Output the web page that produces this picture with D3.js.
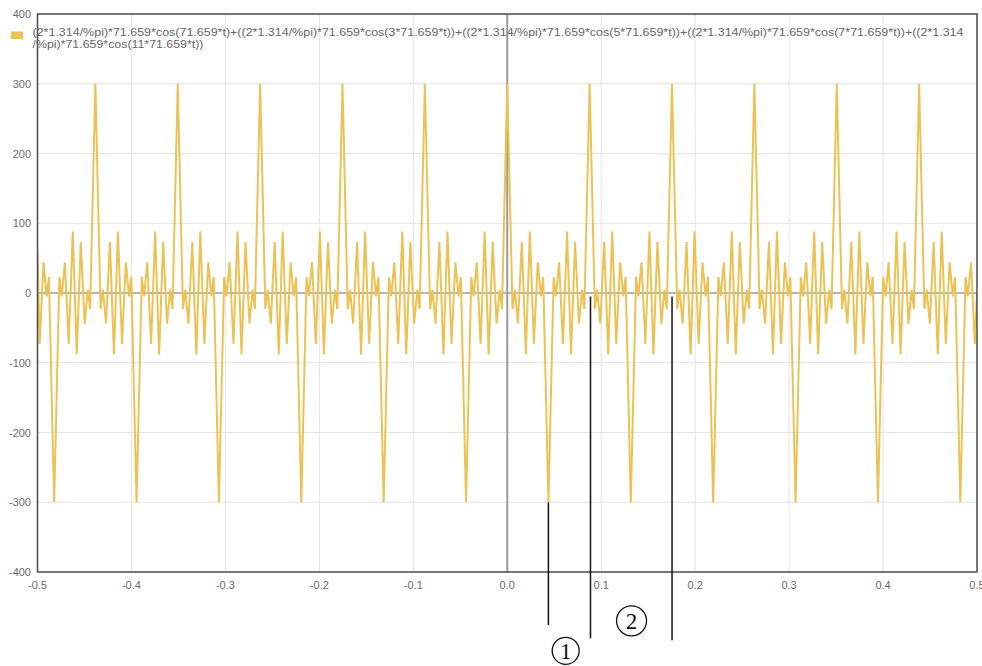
<!DOCTYPE html>
<html>
<head>
<meta charset="utf-8">
<script src="https://cdn.jsdelivr.net/npm/d3@7"></script>
<style>
  body { margin: 0; background: #fff; }
  svg { display: block; font-family: "Liberation Sans", Arial, sans-serif; }
</style>
</head>
<body>
<svg id="canvas" width="982" height="666"></svg>
<script>
const width = 982;
const height = 666;

// tick values
const xTicks = [-0.5, -0.4, -0.3, -0.2, -0.1, 0, 0.1, 0.2, 0.3, 0.4, 0.5];
const yTicks = [-400, -300, -200, -100, 0, 100, 200, 300, 400];

const legendLines = [
  "(2*1.314/%pi)*71.659*cos(71.659*t)+((2*1.314/%pi)*71.659*cos(3*71.659*t))+((2*1.314/%pi)*71.659*cos(5*71.659*t))+((2*1.314/%pi)*71.659*cos(7*71.659*t))+((2*1.314",
  "/%pi)*71.659*cos(11*71.659*t))"
];

// vertices of the curve (t, value)
const timeS = [
  -0.5, -0.49774, -0.49362, -0.49027, -0.48783, -0.48225, -0.47667, -0.47423, -0.47088, -0.46676,
  -0.46244, -0.45823, -0.4539, -0.44978, -0.44643, -0.44399, -0.43841, -0.43283, -0.43039, -0.42704,
  -0.42292, -0.4186, -0.41439, -0.41006, -0.40594, -0.40259, -0.40015, -0.39457, -0.38899, -0.38655,
  -0.3832, -0.37908, -0.37476, -0.37055, -0.36622, -0.3621, -0.35875, -0.35631, -0.35073, -0.34515,
  -0.34271, -0.33936, -0.33524, -0.33092, -0.32671, -0.32238, -0.31826, -0.31491, -0.31247, -0.30689,
  -0.30131, -0.29887, -0.29552, -0.2914, -0.28708, -0.28287, -0.27854, -0.27442, -0.27107, -0.26863,
  -0.26305, -0.25746, -0.25502, -0.25167, -0.24755, -0.24323, -0.23902, -0.23469, -0.23057, -0.22722,
  -0.22478, -0.2192, -0.21362, -0.21118, -0.20783, -0.20371, -0.19939, -0.19518, -0.19085, -0.18673,
  -0.18338, -0.18094, -0.17536, -0.16978, -0.16734, -0.16399, -0.15987, -0.15555, -0.15134, -0.14701,
  -0.14289, -0.13954, -0.1371, -0.13152, -0.12594, -0.1235, -0.12015, -0.11603, -0.11171, -0.1075,
  -0.10317, -0.09905, -0.0957, -0.09326, -0.08768, -0.0821, -0.07966, -0.07631, -0.07219, -0.06787,
  -0.06366, -0.05933, -0.05521, -0.05186, -0.04942, -0.04384, -0.03826, -0.03582, -0.03247, -0.02835,
  -0.02403, -0.01982, -0.01549, -0.01137, -0.00802, -0.00558, 0,
  0.00558, 0.00802, 0.01137, 0.01549, 0.01982, 0.02403, 0.02835, 0.03247, 0.03582, 0.03826,
  0.04384, 0.04942, 0.05186, 0.05521, 0.05933, 0.06366, 0.06787, 0.07219, 0.07631, 0.07966,
  0.0821, 0.08768, 0.09326, 0.0957, 0.09905, 0.10317, 0.1075, 0.11171, 0.11603, 0.12015,
  0.1235, 0.12594, 0.13152, 0.1371, 0.13954, 0.14289, 0.14701, 0.15134, 0.15555, 0.15987,
  0.16399, 0.16734, 0.16978, 0.17536, 0.18094, 0.18338, 0.18673, 0.19085, 0.19518, 0.19939,
  0.20371, 0.20783, 0.21118, 0.21362, 0.2192, 0.22478, 0.22722, 0.23057, 0.23469, 0.23902,
  0.24323, 0.24755, 0.25167, 0.25502, 0.25746, 0.26305, 0.26863, 0.27107, 0.27442, 0.27854,
  0.28287, 0.28708, 0.2914, 0.29552, 0.29887, 0.30131, 0.30689, 0.31247, 0.31491, 0.31826,
  0.32238, 0.32671, 0.33092, 0.33524, 0.33936, 0.34271, 0.34515, 0.35073, 0.35631, 0.35875,
  0.3621, 0.36622, 0.37055, 0.37476, 0.37908, 0.3832, 0.38655, 0.38899, 0.39457, 0.40015,
  0.40259, 0.40594, 0.41006, 0.41439, 0.4186, 0.42292, 0.42704, 0.43039, 0.43283, 0.43841,
  0.44399, 0.44643, 0.44978, 0.4539, 0.45823, 0.46244, 0.46676, 0.47088, 0.47423, 0.47667,
  0.48225, 0.48783, 0.49027, 0.49362, 0.49774, 0.5
];

const amp = [
  60, -73, 44, -5, 23, -300, 23, -5, 44, -73,
  88, -88, 73, -44, 5, -23, 300, -23, 5, -44,
  73, -88, 88, -73, 44, -5, 23, -300, 23, -5,
  44, -73, 88, -88, 73, -44, 5, -23, 300, -23,
  5, -44, 73, -88, 88, -73, 44, -5, 23, -300,
  23, -5, 44, -73, 88, -88, 73, -44, 5, -23,
  300, -23, 5, -44, 73, -88, 88, -73, 44, -5,
  23, -300, 23, -5, 44, -73, 88, -88, 73, -44,
  5, -23, 300, -23, 5, -44, 73, -88, 88, -73,
  44, -5, 23, -300, 23, -5, 44, -73, 88, -88,
  73, -44, 5, -23, 300, -23, 5, -44, 73, -88,
  88, -73, 44, -5, 23, -300, 23, -5, 44, -73,
  88, -88, 73, -44, 5, -23, 300,
  -23, 5, -44, 73, -88, 88, -73, 44, -5, 23,
  -300, 23, -5, 44, -73, 88, -88, 73, -44, 5,
  -23, 300, -23, 5, -44, 73, -88, 88, -73, 44,
  -5, 23, -300, 23, -5, 44, -73, 88, -88, 73,
  -44, 5, -23, 300, -23, 5, -44, 73, -88, 88,
  -73, 44, -5, 23, -300, 23, -5, 44, -73, 88,
  -88, 73, -44, 5, -23, 300, -23, 5, -44, 73,
  -88, 88, -73, 44, -5, 23, -300, 23, -5, 44,
  -73, 88, -88, 73, -44, 5, -23, 300, -23, 5,
  -44, 73, -88, 88, -73, 44, -5, 23, -300, 23,
  -5, 44, -73, 88, -88, 73, -44, 5, -23, 300,
  -23, 5, -44, 73, -88, 88, -73, 44, -5, 23,
  -300, 23, -5, 44, -73, 0
];

// hand drawn markers under the chart (t, top value, bottom value)
const markerT = [0.0438, 0.0886, 0.1754];
const markerTop = [-300, -5, -5];
const markerBottom = [-476, -495, -498];
const badgeText = ["1", "2"];
const badgeT = [0.0622, 0.1323];
const badgeY = [-513, -470];

const svg = d3.select("#canvas");

const x = d3.scaleLinear().domain([-0.5, 0.5]).range([37.5, 977]);
const y = d3.scaleLinear().domain([-400, 400]).range([572, 14]);

// grid
svg.append("g")
    .selectAll("line")
    .data(xTicks.slice(1, -1))
    .enter()
    .append("line")
    .attr("x1", d => x(d)).attr("x2", d => x(d))
    .attr("y1", y(400)).attr("y2", y(-400))
    .attr("stroke", "#e4e4e4")
    .attr("stroke-width", 1);

svg.append("g")
    .selectAll("line")
    .data(yTicks.slice(1, -1))
    .enter()
    .append("line")
    .attr("x1", x(-0.5)).attr("x2", x(0.5))
    .attr("y1", d => y(d)).attr("y2", d => y(d))
    .attr("stroke", "#e4e4e4")
    .attr("stroke-width", 1);

// zero axes
svg.append("line")
    .attr("x1", x(0)).attr("x2", x(0))
    .attr("y1", y(400)).attr("y2", y(-400))
    .attr("stroke", "#9a9a9a").attr("stroke-width", 2);
svg.append("line")
    .attr("x1", x(-0.5)).attr("x2", x(0.5))
    .attr("y1", y(0)).attr("y2", y(0))
    .attr("stroke", "#a0a0a0").attr("stroke-width", 1.5);

// the curve
svg.append("clipPath").attr("id", "plotClip")
    .append("rect")
    .attr("x", x(-0.5)).attr("y", y(400))
    .attr("width", x(0.5) - x(-0.5)).attr("height", y(-400) - y(400));

const line = d3.line()
    .x((d, i) => x(timeS[i]))
    .y(d => y(d));

svg.append("path")
    .datum(amp)
    .attr("clip-path", "url(#plotClip)")
    .attr("fill", "none")
    .attr("stroke", "#eac255")
    .attr("stroke-width", 2)
    .attr("stroke-linejoin", "miter")
    .attr("stroke-miterlimit", 2)
    .attr("d", line);

// frame
svg.append("rect")
    .attr("x", x(-0.5)).attr("y", y(400))
    .attr("width", x(0.5) - x(-0.5)).attr("height", y(-400) - y(400))
    .attr("fill", "none")
    .attr("stroke", "#4a4a4a")
    .attr("stroke-width", 1.5);

// tick labels
svg.append("g")
    .selectAll("text")
    .data(yTicks)
    .enter()
    .append("text")
    .attr("x", 31)
    .attr("y", d => y(d) + 4)
    .attr("text-anchor", "end")
    .attr("font-size", 11)
    .attr("fill", "#6a6a6a")
    .text(d => String(d));

svg.append("g")
    .selectAll("text")
    .data(xTicks)
    .enter()
    .append("text")
    .attr("x", d => x(d))
    .attr("y", 589)
    .attr("text-anchor", "middle")
    .attr("font-size", 11)
    .attr("fill", "#6a6a6a")
    .text(d => d.toFixed(1));

// legend
svg.append("rect")
    .attr("x", 11).attr("y", 31.5)
    .attr("width", 12).attr("height", 7.5)
    .attr("fill", "#eac255");

svg.append("g")
    .selectAll("text")
    .data(legendLines)
    .enter()
    .append("text")
    .attr("x", 32.5)
    .attr("y", (d, i) => 36 + i * 12)
    .attr("font-size", 10.5)
    .attr("fill", "#666")
    .attr("textLength", (d, i) => i === 0 ? 931 : 171)
    .attr("lengthAdjust", "spacingAndGlyphs")
    .text(d => d);

// markers
svg.append("g")
    .selectAll("line")
    .data(markerT)
    .enter()
    .append("line")
    .attr("x1", d => x(d)).attr("x2", d => x(d))
    .attr("y1", (d, i) => y(markerTop[i]))
    .attr("y2", (d, i) => y(markerBottom[i]))
    .attr("stroke", "#111")
    .attr("stroke-width", 1.5);

const badges = svg.append("g")
    .selectAll("g")
    .data(badgeText)
    .enter()
    .append("g")
    .attr("transform", (d, i) => `translate(${x(badgeT[i])},${y(badgeY[i])})`);

badges.append("circle")
    .attr("r", (d, i) => i === 0 ? 13.5 : 15)
    .attr("fill", "none")
    .attr("stroke", "#111")
    .attr("stroke-width", 1.3);

badges.append("text")
    .attr("text-anchor", "middle")
    .attr("y", 8)
    .attr("font-family", "'Liberation Serif', 'Times New Roman', serif")
    .attr("font-size", 23)
    .attr("fill", "#111")
    .text(d => d);
</script>
</body>
</html>
